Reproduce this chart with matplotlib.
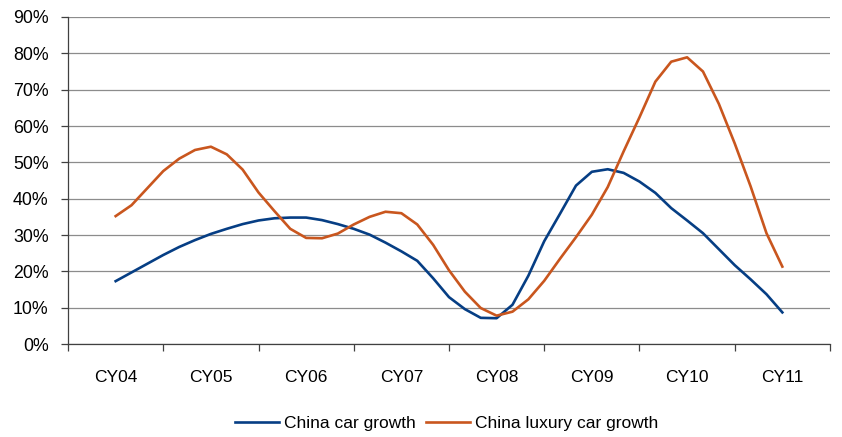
import matplotlib
matplotlib.use("Agg")
import matplotlib.pyplot as plt
from matplotlib.ticker import FixedLocator, FuncFormatter, NullFormatter

plt.rcParams['font.family'] = ['Liberation Sans', 'DejaVu Sans']

# Calendar years shown on the category axis
years = ["CY04", "CY05", "CY06", "CY07", "CY08", "CY09", "CY10", "CY11"]

# Bi-monthly observations (year offsets from CY04), year-on-year growth in %
t_points = [k / 6 for k in range(43)]

china_car_growth = [
    17.3, 19.7, 22.1, 24.5, 26.7, 28.6, 30.3, 31.7, 33.0, 34.0,
    34.6, 34.8, 34.8, 34.1, 33.0, 31.7, 30.1, 27.9, 25.5, 22.9,
    18.1, 12.9, 9.6, 7.2, 7.1, 10.8, 18.8, 28.3, 35.9, 43.6,
    47.4, 48.1, 47.1, 44.7, 41.6, 37.4, 34.0, 30.5, 26.1, 21.7,
    17.8, 13.7, 8.7,
]

china_luxury_car_growth = [
    35.2, 38.2, 42.9, 47.6, 51.0, 53.4, 54.3, 52.2, 48.0, 41.7,
    36.6, 31.7, 29.2, 29.1, 30.4, 32.9, 35.0, 36.4, 36.0, 32.9,
    27.3, 20.3, 14.4, 9.9, 7.8, 8.9, 12.3, 17.4, 23.5, 29.4,
    35.6, 43.2, 53.0, 62.4, 72.2, 77.7, 78.9, 75.0, 66.1, 55.2,
    43.4, 30.5, 21.3,
]

y_ticks = list(range(0, 100, 10))

fig = plt.figure(figsize=(8.42, 4.37), dpi=100)
ax = fig.add_axes([0.0808, 0.2128, 0.9049, 0.7483])

blue = "#063E84"
orange = "#C9561E"

ax.plot(t_points, china_car_growth, color=blue, lw=1.9,
        label="China car growth", solid_joinstyle="round", zorder=3)
ax.plot(t_points, china_luxury_car_growth, color=orange, lw=1.9,
        label="China luxury car growth", solid_joinstyle="round", zorder=3)

ax.set_xlim(-0.5, len(years) - 0.5)
ax.set_ylim(0, 90)

# Y axis: percentage ticks with horizontal gridlines
ax.set_yticks(y_ticks)
ax.yaxis.set_major_formatter(FuncFormatter(lambda v, _: f"{int(v)}%"))
ax.grid(axis="y", color="#8c8c8c", lw=0.9)
ax.set_axisbelow(True)

# X axis: tick marks at category boundaries, labels centred on categories
ax.xaxis.set_major_locator(FixedLocator([i - 0.5 for i in range(len(years) + 1)]))
ax.xaxis.set_major_formatter(NullFormatter())
ax.xaxis.set_minor_locator(FixedLocator(list(range(len(years)))))
ax.set_xticklabels(years, minor=True)
ax.tick_params(axis="x", which="major", length=5, width=0.9, color="#404040", direction="out")
ax.tick_params(axis="x", which="minor", length=0, pad=19, labelsize=12.5)
ax.tick_params(axis="y", length=5, width=0.9, color="#404040", direction="out",
               labelsize=12.8, pad=9)

for side in ("top", "right"):
    ax.spines[side].set_visible(False)
ax.spines["left"].set_color("#404040")
ax.spines["bottom"].set_color("#404040")
ax.spines["left"].set_linewidth(0.9)
ax.spines["bottom"].set_linewidth(0.9)

fig.legend(loc="center", bbox_to_anchor=(0.5305, 0.031), ncol=2, frameon=False,
           fontsize=12.5, handlelength=2.5, handletextpad=0.3, columnspacing=0.6)

fig.savefig("out.png", dpi=100)
